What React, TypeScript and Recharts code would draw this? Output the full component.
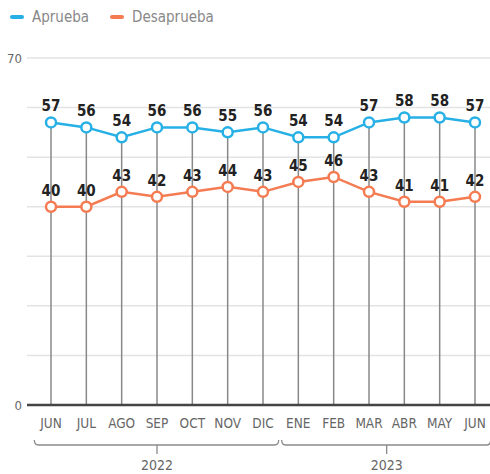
import React from "react";
import { LineChart, Line, XAxis, YAxis, CartesianGrid, ErrorBar, LabelList } from "recharts";

const months = ["JUN", "JUL", "AGO", "SEP", "OCT", "NOV", "DIC", "ENE", "FEB", "MAR", "ABR", "MAY", "JUN"];
const years = ["2022", "2022", "2022", "2022", "2022", "2022", "2022", "2023", "2023", "2023", "2023", "2023", "2023"];
const aprueba = [57, 56, 54, 56, 56, 55, 56, 54, 54, 57, 58, 58, 57];
const desaprueba = [40, 40, 43, 42, 43, 44, 43, 45, 46, 43, 41, 41, 42];
const yTicks = [0, 10, 20, 30, 40, 50, 60, 70];
const yLabeled = [0, 70];

const data = months.map((m, i) => ({
  key: i,
  month: m,
  year: years[i],
  aprueba: aprueba[i],
  desaprueba: desaprueba[i],
  drop: [aprueba[i], 0],
}));

const W = 490;
const H = 474;
const MARGIN = { top: 58, right: 0, left: 0, bottom: 5 };
const Y_W = 27;
const PAD_L = 24;
const PAD_R = 15;
const STEP = (W - MARGIN.left - MARGIN.right - Y_W - PAD_L - PAD_R) / (months.length - 1);

const BLUE = "#27b0e6";
const ORANGE = "#f47b52";
const FONT = "'DejaVu Sans Condensed', 'DejaVu Sans', sans-serif";

const MonthTick = (props: any) => {
  const { x, y, payload, index } = props;
  const i = typeof index === "number" ? index : payload.index;
  const label = months[i];
  const yr = years[i];
  const isStart = i === 0 || years[i - 1] !== yr;
  let bracket = null;
  if (isStart) {
    let n = 0;
    for (let k = i; k < years.length && years[k] === yr; k++) n++;
    const x0 = x - STEP / 2 + 1;
    const x1 = x + (n - 1) * STEP + STEP / 2 - 2;
    const cx = x + ((n - 1) / 2) * STEP;
    const by = y + 32;
    bracket = (
      <g>
        <path
          d={`M${x0},${by - 5} Q${x0},${by} ${x0 + 4},${by} L${x1 - 4},${by} Q${x1},${by} ${x1},${by - 5}`}
          fill="none"
          stroke="#8a8a8a"
          strokeWidth={1.3}
        />
        <line x1={cx} x2={cx} y1={by} y2={by + 9} stroke="#8a8a8a" strokeWidth={1.3} />
        <text x={cx} y={by + 25} textAnchor="middle" fill="#666" fontSize={14} fontFamily={FONT} style={{ fontStretch: "condensed" }}>
          {yr}
        </text>
      </g>
    );
  }
  return (
    <g>
      <text x={x} y={y + 15} textAnchor="middle" fill="#666" fontSize={13.5} fontFamily={FONT} style={{ fontStretch: "condensed" }}>
        {label}
      </text>
      {bracket}
    </g>
  );
};

const LegendItem = ({ color, text }: { color: string; text: string }) => (
  <div style={{ display: "flex", alignItems: "center", marginRight: 21 }}>
    <div style={{ width: 14, height: 4, borderRadius: 2, background: color, marginRight: 8 }} />
    <span style={{ color: "#888", fontSize: 15, fontFamily: FONT, fontStretch: "condensed" }}>{text}</span>
  </div>
);

export default function App() {
  return (
    <div style={{ position: "absolute", left: 0, top: 0, width: W, height: H, background: "#fff" }}>
      <div style={{ position: "absolute", left: 10, top: 8, display: "flex" }}>
        <LegendItem color={BLUE} text="Aprueba" />
        <LegendItem color={ORANGE} text="Desaprueba" />
      </div>
      <LineChart width={W} height={H} data={data} margin={MARGIN}>
        <CartesianGrid horizontal vertical={false} stroke="#e3e3e3" strokeWidth={1.5} />
        <XAxis
          dataKey="key"
          type="category"
          padding={{ left: PAD_L, right: PAD_R }}
          axisLine={{ stroke: "#444", strokeWidth: 2.5 }}
          tickLine={false}
          tick={<MonthTick />}
          interval={0}
          height={64}
        />
        <YAxis
          domain={[0, 70]}
          ticks={yTicks}
          width={Y_W}
          axisLine={false}
          tickLine={false}
          tickSize={0}
          tickMargin={5}
          tickFormatter={(v: number) => (yLabeled.includes(v) ? String(v) : "")}
          tick={{ fill: "#666", fontSize: 13, fontFamily: FONT, style: { fontStretch: "condensed" } } as any}
        />
        <Line
          dataKey="aprueba"
          stroke={BLUE}
          strokeWidth={2.5}
          dot={{ r: 5, fill: "#fff", stroke: BLUE, strokeWidth: 2.5 }}
          isAnimationActive={false}
        >
          <ErrorBar dataKey="drop" direction="y" width={0} stroke="#888" strokeWidth={1.5} />
          <LabelList
            dataKey="aprueba"
            position="top"
            offset={11}
            fill="#222"
            fontSize={15}
            fontWeight="bold"
            fontFamily={FONT}
            style={{ fontStretch: "condensed" }}
          />
        </Line>
        <Line
          dataKey="desaprueba"
          stroke={ORANGE}
          strokeWidth={2.5}
          dot={{ r: 5, fill: "#fff", stroke: ORANGE, strokeWidth: 2.5 }}
          isAnimationActive={false}
        >
          <LabelList
            dataKey="desaprueba"
            position="top"
            offset={11}
            fill="#222"
            fontSize={15}
            fontWeight="bold"
            fontFamily={FONT}
            style={{ fontStretch: "condensed" }}
          />
        </Line>
      </LineChart>
    </div>
  );
}
